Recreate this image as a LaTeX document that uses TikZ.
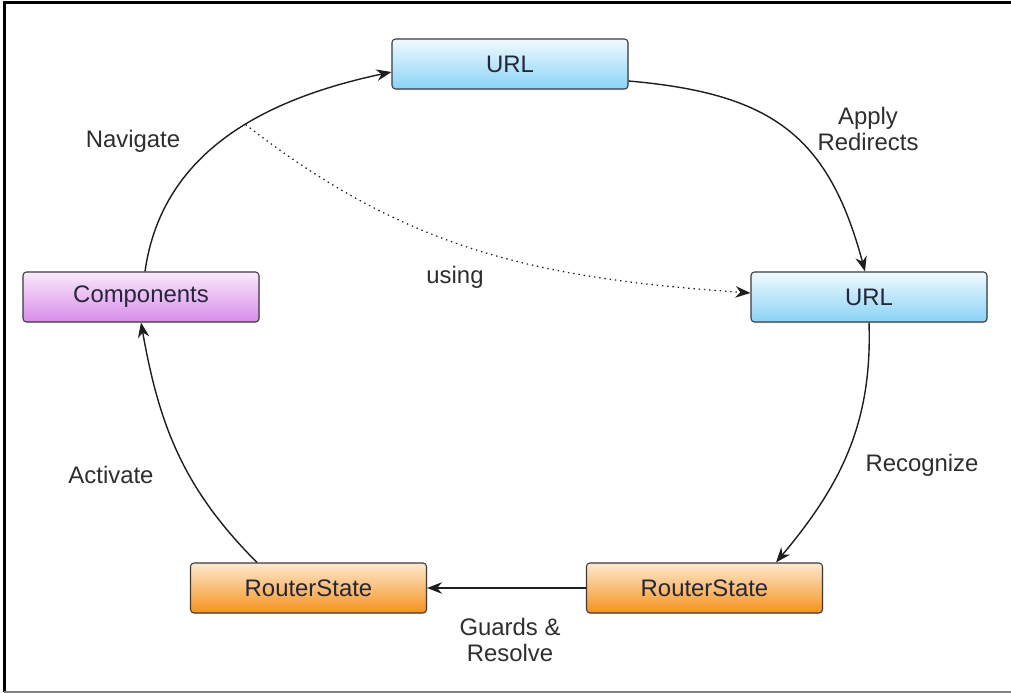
\documentclass[tikz,border=0pt]{standalone}
\usepackage{fontspec}
\setmainfont{Liberation Sans}
\usepackage{tikz}
\usetikzlibrary{positioning, arrows.meta, shadows}
\usepackage{xcolor}
\definecolor{urltopc}{HTML}{F0FAFE}
\definecolor{urlbotc}{HTML}{8AD3F6}
\definecolor{comptopc}{HTML}{FAEAFC}
\definecolor{compbotc}{HTML}{D88BE8}
\definecolor{statetopc}{HTML}{FDE9CF}
\definecolor{statebotc}{HTML}{F5921C}
\definecolor{boxline}{HTML}{3A3A40}
\definecolor{boxtext}{HTML}{26263A}
\definecolor{flowline}{HTML}{1E1E1E}
\definecolor{lbltext}{HTML}{2E2E2E}
\newcommand{\routerfont}{\fontsize{13.6}{14.6}\selectfont}

\begin{document}
\begin{tikzpicture}[
  routebox/.style={draw=boxline, line width=0.6pt, rounded corners=2pt,
    minimum width=4.72cm, minimum height=1.0cm, text=boxtext, font=\routerfont,
    drop shadow={opacity=0.18, shadow xshift=0.5pt, shadow yshift=-0.8pt}},
  urlbox/.style={routebox, top color=urltopc, bottom color=urlbotc},
  compbox/.style={routebox, top color=comptopc, bottom color=compbotc},
  statebox/.style={routebox, top color=statetopc, bottom color=statebotc},
  flow/.style={-{Stealth[length=3mm, width=2.3mm]}, line width=0.8pt, draw=flowline},
  lbl/.style={font=\routerfont, text=lbltext, align=center, inner sep=0pt}
]
  % Frame
  \useasboundingbox (0,0) rectangle (20.22,13.86);
  \draw[line width=0.06cm, black] (0.09,0.02) -- (0.09,13.80) -- (20.22,13.80);
  \draw[line width=0.04cm, gray] (0.09,0.02) -- (20.22,0.02);
  % Boxes
  \node[urlbox] (urltop) at (10.2, 12.58) {URL};
  \node[urlbox] (urlright) at (17.38, 7.92) {URL};
  \node[compbox] (comp) at (2.82, 7.92) {Components};
  \node[statebox] (stateleft) at (6.17, 2.10) {RouterState};
  \node[statebox] (stateright) at (14.09, 2.10) {RouterState};
  % Cycle
  \draw[flow] ([xshift=0.08cm]comp.north) to[out=82, in=192]
    coordinate[pos=0.56] (navmid) ([yshift=-0.16cm]urltop.west);
  \draw[flow] ([yshift=-0.34cm]urltop.east) to[out=-5, in=105, looseness=1.2]
    ([xshift=-0.08cm]urlright.north);
  \draw[flow] (urlright.south) to[out=-88, in=50]
    ([xshift=1.43cm]stateright.north);
  \draw[flow] (stateright.west) -- (stateleft.east);
  \draw[flow] ([xshift=-1.03cm]stateleft.north) to[out=135, in=-80] (comp.south);
  % Using
  \draw[flow, line width=0.7pt, dash pattern=on 0.8pt off 2.2pt] (navmid)
    to[out=-38, in=176] ([yshift=0.08cm]urlright.west);
  % Labels
  \node[lbl] (navlbl) at (2.66, 11.04) {Navigate};
  \node[lbl] (redirlbl) at (17.36, 11.28) {Apply\\Redirects};
  \node[lbl] (usinglbl) at (9.10, 8.32) {using};
  \node[lbl] (recoglbl) at (18.44, 4.56) {Recognize};
  \node[lbl] (guardlbl) at (10.2, 1.06) {Guards \&\\Resolve};
  \node[lbl] (activlbl) at (2.22, 4.36) {Activate};
\end{tikzpicture}
\end{document}
